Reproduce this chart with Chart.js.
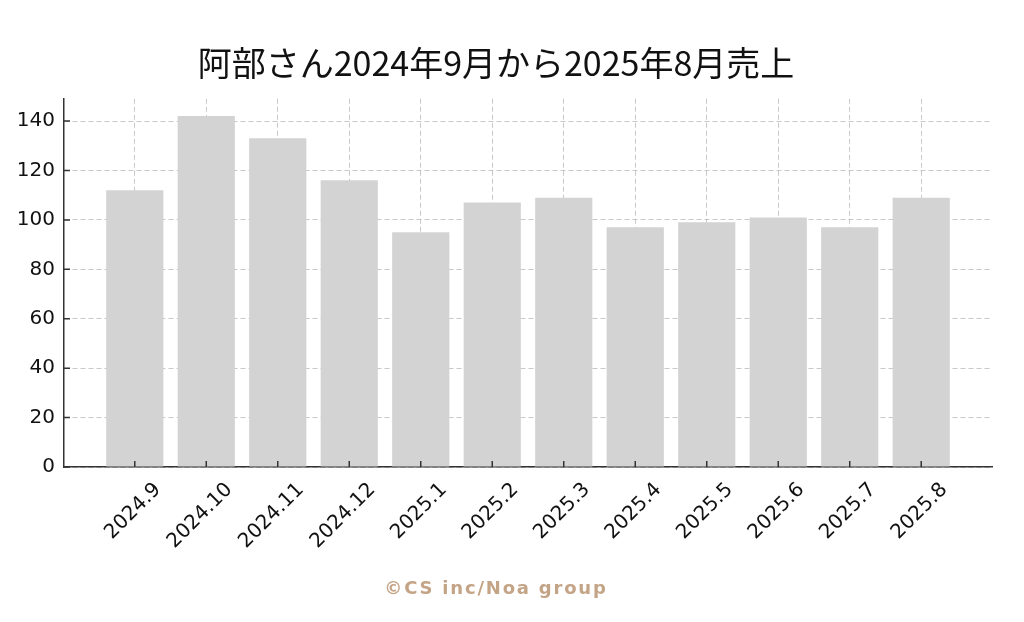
<!DOCTYPE html>
<html><head><meta charset="utf-8">
<script src="https://cdn.jsdelivr.net/npm/chart.js@4"></script>
<style>
html,body{margin:0;padding:0;background:#fff;}
#wrap{position:relative;width:1024px;height:622px;}
#footer{position:absolute;left:-16px;width:1024px;top:575px;text-align:center;font-family:"DejaVu Sans";font-weight:bold;font-size:18px;letter-spacing:1.8px;color:#c4a486;line-height:26px;}
</style></head>
<body><div id="wrap"><canvas id="c" width="1024" height="622"></canvas><div id="footer">©CS inc/Noa group</div></div>
<script>
const chartTitle = '阿部さん2024年9月から2025年8月売上';
const categories = ['2024.9','2024.10','2024.11','2024.12','2025.1','2025.2','2025.3','2025.4','2025.5','2025.6','2025.7','2025.8'];
const sales = [112, 142, 133, 116, 95, 107, 109, 97, 99, 101, 97, 109];
const yTicks = [0, 20, 40, 60, 80, 100, 120, 140];

const tickFont = {family: '"DejaVu Sans"', size: 20};
const gridColor = 'rgba(176,176,176,0.7)';

const inwardTicks = {
  id: 'inwardTicks',
  afterDraw(chart) {
    const {ctx, scales: {x, y}, chartArea: a} = chart;
    ctx.save();
    ctx.strokeStyle = '#333';
    ctx.lineWidth = 1.5;
    ctx.beginPath();
    x.ticks.forEach(t => { const px = x.getPixelForValue(t.value); ctx.moveTo(px, a.bottom); ctx.lineTo(px, a.bottom - 6); });
    y.ticks.forEach(t => { const py = y.getPixelForValue(t.value); ctx.moveTo(a.left, py); ctx.lineTo(a.left + 6, py); });
    ctx.stroke();
    ctx.restore();
  }
};

new Chart(document.getElementById('c'), {
  type: 'bar',
  data: {
    datasets: [{
      data: categories.map((c, i) => ({x: i, y: sales[i]})),
      backgroundColor: '#d3d3d3',
      borderWidth: 0,
      barPercentage: 0.8,
      categoryPercentage: 1
    }]
  },
  options: {
    responsive: false,
    animation: false,
    layout: {padding: {top: 27, left: 0, right: 32, bottom: 0}},
    plugins: {
      legend: {display: false},
      tooltip: {enabled: false},
      title: {
        display: true, text: chartTitle, color: '#111',
        font: {family: '"Noto Sans CJK JP"', size: 34, weight: 'normal'},
        padding: {top: 16, bottom: 15}
      }
    },
    scales: {
      x: {
        type: 'linear', min: -0.99, max: 11.99, z: 1, offset: false,
        afterBuildTicks: s => { s.ticks = categories.map((c, i) => ({value: i})); },
        afterFit: s => { s.height = 155; },
        grid: {color: gridColor, lineWidth: 1, drawTicks: false, offset: false},
        border: {display: true, color: '#333', width: 1.5, dash: [5, 3]},
        ticks: {
          autoSkip: false, maxRotation: 45, minRotation: 45,
          font: tickFont, color: '#111', padding: 11, labelOffset: 23,
          callback: v => categories[v] !== undefined ? categories[v] : ''
        }
      },
      y: {
        min: 0, max: 149, z: 1,
        afterBuildTicks: s => { s.ticks = yTicks.map(v => ({value: v})); },
        afterFit: s => { s.width = 64; },
        grid: {color: gridColor, lineWidth: 1, drawTicks: false},
        border: {display: true, color: '#333', width: 1.5, dash: [5, 3]},
        ticks: {font: tickFont, color: '#111', padding: 9}
      }
    }
  },
  plugins: [inwardTicks]
});
</script>
</body></html>
